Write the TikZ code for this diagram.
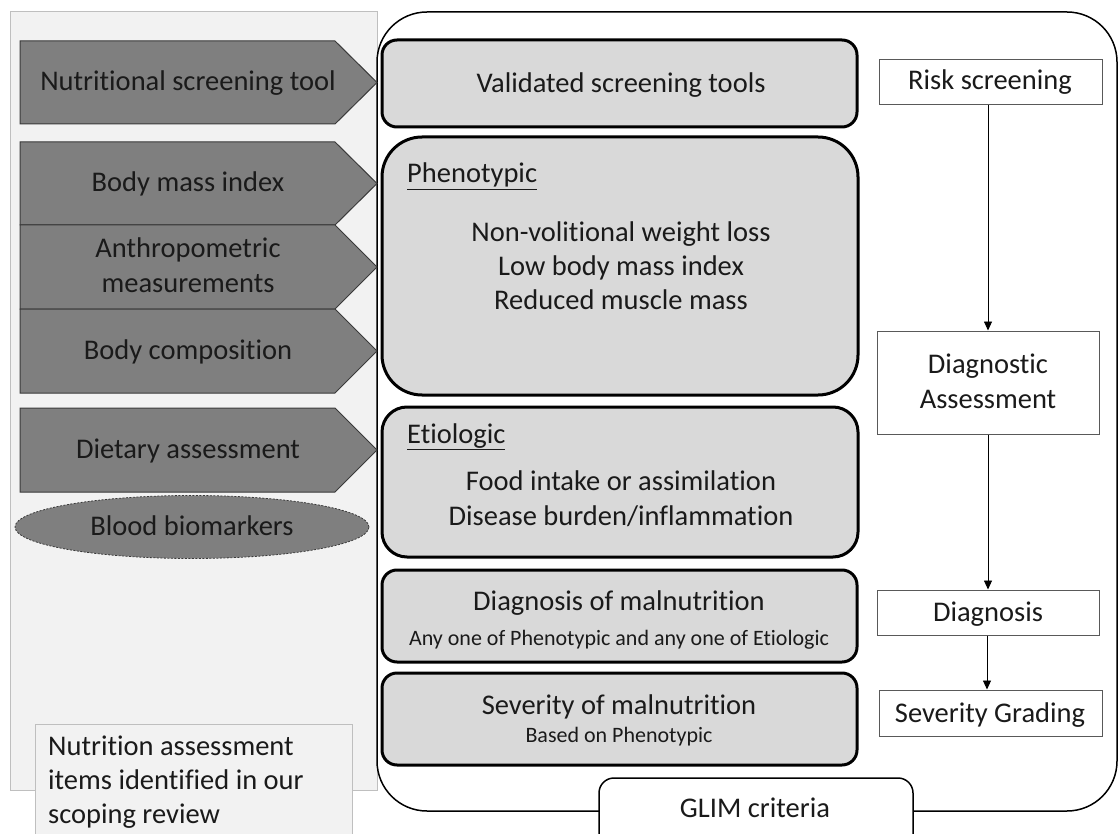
\documentclass[tikz,border=0pt]{standalone}
\usepackage{fontspec}
\setmainfont{Carlito}[Ligatures={NoCommon}]
\usetikzlibrary{arrows.meta,shapes.geometric}
\definecolor{panelfill}{HTML}{F2F2F2}
\definecolor{panelline}{HTML}{BFBFBF}
\definecolor{arrowfill}{HTML}{7F7F7F}
\definecolor{arrowline}{HTML}{3A3A3A}
\definecolor{boxfill}{HTML}{D9D9D9}
\definecolor{thinline}{HTML}{595959}
\definecolor{txt}{HTML}{1A1A1A}
\begin{document}
\begin{tikzpicture}[x=1pt,y=-1pt,
  bigtxt/.style={font=\fontsize{28.5}{34}\selectfont, text=txt, inner sep=0pt, align=center},
  smalltxt/.style={font=\fontsize{22}{26}\selectfont, text=txt, inner sep=0pt, align=center},
  arrowshape/.style={draw=arrowline, fill=arrowfill, line width=1pt},
  gbox/.style={draw=black, fill=boxfill, line width=3pt, rectangle, inner sep=0pt},
  wbox/.style={draw=thinline, fill=white, line width=1pt, rectangle, inner sep=0pt},
  conn/.style={draw=black, line width=0.9pt, -{Triangle[length=9pt,width=8pt]}}]
\path[use as bounding box, clip] (0,0) rectangle (1118,834);
\fill[white] (0,0) rectangle (1118,834);
% left panel
\draw[draw=panelline, fill=panelfill, line width=1pt] (10,12) rectangle (377,790);
\draw[draw=panelline, fill=panelfill, line width=1pt] (35,724) rectangle (352,860);
\node[bigtxt, align=left, anchor=base west, font=\fontsize{28.5}{34}\selectfont] (items) at (48,823)
  {Nutrition assessment\\items identified in our\\scoping review};
% big GLIM container
\draw[line width=1.5pt, rounded corners=50pt] (377,12) rectangle (1117,811);
% arrow shapes
\foreach \t/\b in {41/124,142/225,225/309,309/393,408/492}{
  \draw[arrowshape] (20,\t) -- (335,\t) -- (377,{(\t+\b)/2}) -- (335,\b) -- (20,\b) -- cycle;
}
\node[bigtxt, anchor=base] (nst) at (188,91) {Nutritional screening tool};
\node[bigtxt, anchor=base] (bmi) at (188,192) {Body mass index};
\node[bigtxt, anchor=base] (anthro) at (188,258) {Anthropometric};
\node[bigtxt, anchor=base] (anthro2) at (188,292) {measurements};
\node[bigtxt, anchor=base] (bcomp) at (188,359) {Body composition};
\node[bigtxt, anchor=base] (diet) at (188,458) {Dietary assessment};
\node[ellipse, draw=arrowline, fill=arrowfill, line width=0.8pt, dash pattern=on 2pt off 1.5pt,
  minimum width=354pt, minimum height=63pt, inner sep=0pt] (bloodshape) at (192,527) {};
\node[bigtxt, anchor=base] (blood) at (192,535) {Blood biomarkers};
% grey boxes
\node[gbox, rounded corners=15pt, minimum width=475pt, minimum height=87pt] (vst) at (619.5,83.5) {};
\node[bigtxt, anchor=base] at (621,93) {Validated screening tools};
\node[gbox, rounded corners=40pt, minimum width=476pt, minimum height=258pt] (pheno) at (620,266) {};
\node[bigtxt, anchor=base west] at (407,183) {\underline{Phenotypic}};
\node[bigtxt, anchor=base] at (621,242) {Non-volitional weight loss};
\node[bigtxt, anchor=base] at (621,275) {Low body mass index};
\node[bigtxt, anchor=base] at (621,309) {Reduced muscle mass};
\node[gbox, rounded corners=25pt, minimum width=476pt, minimum height=150pt] (etio) at (620,482) {};
\node[bigtxt, anchor=base west] at (407,443) {\underline{Etiologic}};
\node[bigtxt, anchor=base] at (621,490) {Food intake or assimilation};
\node[bigtxt, anchor=base] at (621,525) {Disease burden/inflammation};
\node[gbox, rounded corners=15pt, minimum width=475pt, minimum height=92pt] (diagm) at (619.5,616) {};
\node[bigtxt, anchor=base] at (619,610) {Diagnosis of malnutrition};
\node[smalltxt, anchor=base] at (619,645) {Any one of Phenotypic and any one of Etiologic};
\node[gbox, rounded corners=15pt, minimum width=475pt, minimum height=92pt] (sevm) at (619.5,719) {};
\node[bigtxt, anchor=base] at (619,714) {Severity of malnutrition};
\node[smalltxt, anchor=base] at (619,742) {Based on Phenotypic};
% right column
\node[wbox, minimum width=223pt, minimum height=45pt] (risk) at (990.5,82.5) {};
\node[bigtxt, anchor=base] at (990,90) {Risk screening};
\node[wbox, minimum width=222pt, minimum height=103pt] (dass) at (988,382.5) {};
\node[bigtxt, anchor=base] at (988,373) {Diagnostic};
\node[bigtxt, anchor=base] at (988,408) {Assessment};
\node[wbox, minimum width=222pt, minimum height=45pt] (diag) at (988,612.5) {};
\node[bigtxt, anchor=base] at (988,621) {Diagnosis};
\node[wbox, minimum width=223pt, minimum height=46pt] (sev) at (990.5,713) {};
\node[bigtxt, anchor=base] at (990,722) {Severity Grading};
\draw[conn] (risk.south -| dass.south) -- (dass.north);
\draw[conn] (dass.south) -- (diag.north);
\draw[conn] ([xshift=-1pt]diag.south) -- ([xshift=-1pt]diag.south |- sev.north);
% GLIM label box
\draw[line width=1.5pt, fill=white, rounded corners=15pt] (599,860) -- (599,778) -- (913,778) -- (913,860);
\node[bigtxt, anchor=base] (glim) at (755,817) {GLIM criteria};
\end{tikzpicture}
\end{document}
